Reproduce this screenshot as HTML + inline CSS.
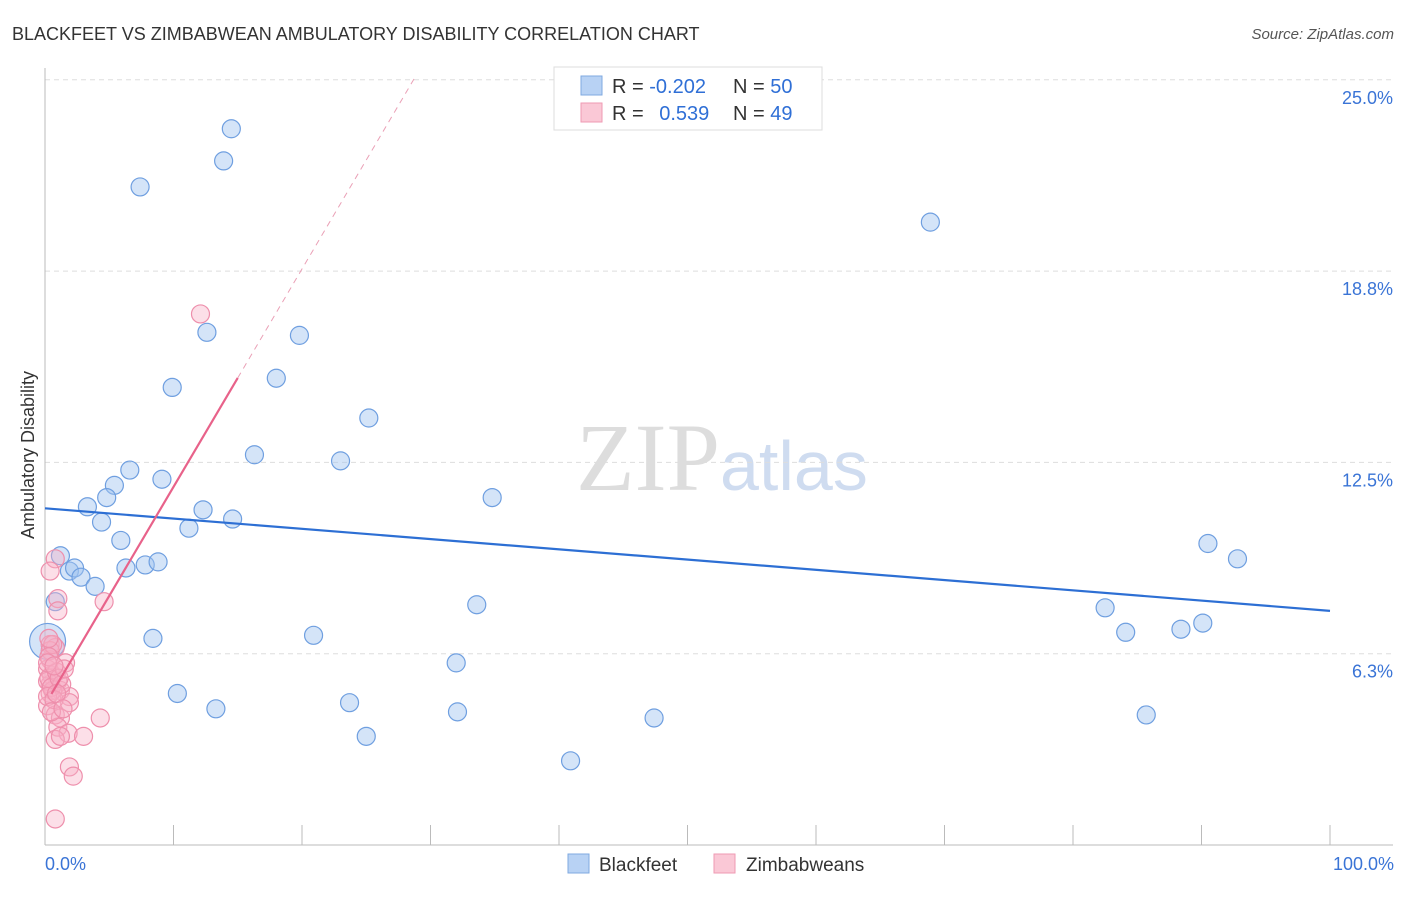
<!DOCTYPE html>
<html><head><meta charset="utf-8"><style>
body{margin:0;background:#fff;font-family:"Liberation Sans",sans-serif}
</style></head><body>
<svg id="chart" width="1406" height="892" xmlns="http://www.w3.org/2000/svg" style="font-family:'Liberation Sans',sans-serif">
<text x="12" y="40" font-size="18" fill="#333">BLACKFEET VS ZIMBABWEAN AMBULATORY DISABILITY CORRELATION CHART</text>
<text x="1394" y="39" font-size="15" fill="#555" font-style="italic" text-anchor="end">Source: ZipAtlas.com</text>
<text x="720" y="490" font-size="96" fill="#ddd" text-anchor="end" font-family="Liberation Serif">ZIP</text>
<text x="720" y="490" font-size="70" fill="#cfdcf0">atlas</text>
<text transform="translate(34,455) rotate(-90)" font-size="18" fill="#333" text-anchor="middle">Ambulatory Disability</text>
<g id="grid"></g><g id="axes"></g><g id="pts"></g><g id="lines"></g>
<g>
<rect x="554" y="67" width="268" height="63" fill="#fff" stroke="#ddd"/>
<rect x="581" y="76" width="21" height="19" fill="#b8d2f4" stroke="#7fa9e0"/>
<text x="612" y="93" font-size="20" fill="#333">R = <tspan fill="#2f6fd6">-0.202</tspan></text>
<text x="733" y="93" font-size="20" fill="#333">N = <tspan fill="#2f6fd6">50</tspan></text>
<rect x="581" y="103" width="21" height="19" fill="#fac8d6" stroke="#ef9ab3"/>
<text x="612" y="120" font-size="20" fill="#333">R = <tspan fill="#2f6fd6" dx="10">0.539</tspan></text>
<text x="733" y="120" font-size="20" fill="#333">N = <tspan fill="#2f6fd6">49</tspan></text>
</g>
<g>
<rect x="568" y="854" width="21" height="19" fill="#b8d2f4" stroke="#7fa9e0"/>
<text x="599" y="871" font-size="19" fill="#333">Blackfeet</text>
<rect x="714" y="854" width="21" height="19" fill="#fac8d6" stroke="#ef9ab3"/>
<text x="746" y="871" font-size="19" fill="#333">Zimbabweans</text>
</g>
</svg>
<script>
const yTicks=[6.25,12.5,18.75,25];
const yTickLabels=["6.3%","12.5%","18.8%","25.0%"];
const blueX=[7.4,14.5,13.9,68.9,12.6,19.8,9.9,18.0,25.2,16.3,23.0,6.6,9.1,5.4,4.8,3.3,34.8,12.3,14.6,4.4,11.2,5.9,1.2,1.9,2.3,2.8,3.9,6.3,7.8,8.8,0.8,90.5,92.8,33.6,82.5,84.1,88.4,90.1,8.4,20.9,0.2,32.0,10.3,13.3,23.7,32.1,47.4,85.7,25.0,40.9];
const blueY=[21.5,23.4,22.35,20.35,16.75,16.65,14.95,15.25,13.95,12.75,12.55,12.25,11.95,11.75,11.35,11.05,11.35,10.95,10.65,10.55,10.35,9.95,9.45,8.95,9.05,8.75,8.45,9.05,9.15,9.25,7.95,9.85,9.35,7.85,7.75,6.95,7.05,7.25,6.75,6.85,6.65,5.95,4.95,4.45,4.65,4.35,4.15,4.25,3.55,2.75];
const pinkX=[12.1,0.8,0.4,1.0,1.0,4.6,0.4,0.8,0.4,1.6,0.5,1.0,0.4,1.2,0.4,1.9,1.9,0.2,0.8,1.2,4.3,1.0,1.8,0.8,1.2,3.0,1.9,2.2,0.8,0.2,0.2,0.6,0.3,0.5,0.9,1.3,0.2,0.7,1.1,0.4,0.6,1.5,0.3,0.9,0.2,0.5,1.4,0.7,0.3];
const pinkY=[17.35,9.35,8.95,8.05,7.65,7.95,6.55,6.45,6.05,5.95,5.55,5.35,5.25,5.05,4.95,4.85,4.65,4.55,4.25,4.15,4.15,3.85,3.65,3.45,3.55,3.55,2.55,2.25,0.85,5.75,5.35,5.05,5.45,5.15,5.65,5.25,4.85,4.75,5.45,6.35,6.55,5.75,6.15,4.95,5.95,4.35,4.45,5.85,6.75];
const blueTrend=[11.0,7.65];
const pinkTrend=[4.58,0.712];
const X0=45,X1=1330,Y0=845,YS=191.3/6.25;
const sx=v=>X0+(X1-X0)*v/100, sy=v=>Y0-v*YS;
const NS="http://www.w3.org/2000/svg";
function mk(t,a,p){const e=document.createElementNS(NS,t);for(const k in a)e.setAttribute(k,a[k]);document.getElementById(p).appendChild(e);return e;}
yTicks.forEach((t,i)=>{
 const l=mk('line',{x1:X0,x2:1393,y1:sy(t),y2:sy(t),stroke:'#ddd','stroke-dasharray':'5,4'},'grid');
 
 
 const tx=mk('text',{x:1393,y:sy(t)+24,'font-size':18,fill:'#3a74d6','text-anchor':'end'},'grid');
 tx.textContent=yTickLabels[i];
 
 
});
const ax=mk('line',{x1:X0,x2:X0,y1:68,y2:Y0,stroke:'#bbb'},'axes');


const bx=mk('line',{x1:X0,x2:1393,y1:Y0,y2:Y0,stroke:'#bbb'},'axes');


for(let i=0;i<=10;i++){const t=mk('line',{x1:sx(i*10),x2:sx(i*10),y1:825,y2:Y0,stroke:'#bbb'},'axes');
 
 }
[[0,'start',45,'0.0%'],[100,'end',1394,'100.0%']].forEach(d=>{const t=mk('text',{x:d[2],y:870,'font-size':18,fill:'#3a74d6','text-anchor':d[1]},'axes');t.textContent=d[3];
 
 });
blueX.forEach((x,i)=>{const c=mk('circle',{cx:sx(x),cy:sy(blueY[i]),r:i==40?18:9,fill:'rgba(160,196,240,0.45)',stroke:'#6f9fe0','stroke-width':1.2},'pts');
 
 });
pinkX.forEach((x,i)=>{const c=mk('circle',{cx:sx(x),cy:sy(pinkY[i]),r:9,fill:'rgba(248,176,198,0.4)',stroke:'#ee8fac','stroke-width':1.2},'pts');
 
 });
const bl=mk('line',{x1:sx(0),y1:sy(blueTrend[0]),x2:sx(100),y2:sy(blueTrend[1]),stroke:'#2d6fd4','stroke-width':2.2},'lines');


const pf=x=>pinkTrend[0]+pinkTrend[1]*x;
const ps=mk('line',{x1:sx(0.5),y1:sy(pf(0.5)),x2:sx(15),y2:sy(pf(15)),stroke:'#e8628a','stroke-width':2.2},'lines');


const pd=mk('line',{x1:sx(15),y1:sy(pf(15)),x2:sx(28.8),y2:sy(pf(28.8)),stroke:'#eaa0b6','stroke-width':1,'stroke-dasharray':'6,5'},'lines');


</script>
</body></html>
